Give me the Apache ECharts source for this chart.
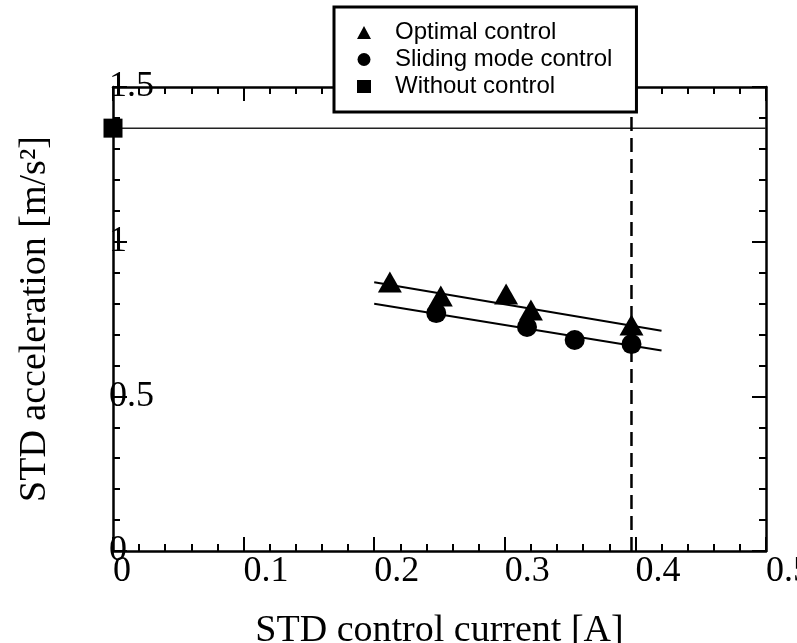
<!DOCTYPE html>
<html>
<head>
<meta charset="utf-8">
<script src="https://cdn.jsdelivr.net/npm/echarts@6/dist/echarts.min.js"></script>
<style>
html,body{margin:0;padding:0;background:#fff;}
#c{width:797px;height:643px;}
</style>
</head>
<body>
<div id="c"></div>
<script>
// ---- data ----
const optimalX = [0.212, 0.251, 0.301, 0.320, 0.397];
const optimalY = [0.870, 0.824, 0.831, 0.779, 0.731];
const slidingX = [0.2475, 0.317, 0.3535, 0.397];
const slidingY = [0.769, 0.724, 0.682, 0.669];
const withoutX = [0];
const withoutY = [1.367];
const fitOptimalX = [0.2, 0.42];
const fitOptimalY = [0.869, 0.712];
const fitSlidingX = [0.2, 0.42];
const fitSlidingY = [0.799, 0.648];
const limitCurrent = 0.397;
const xRange = [0, 0.5];
const yRange = [0, 1.5];
const xStep = 0.1;
const yStep = 0.5;
const seriesNames = ['Optimal control', 'Sliding mode control', 'Without control'];
const xTitle = 'STD control current [A]';
const yTitle = 'STD acceleration [m/s²]';

const zip = (xs, ys) => xs.map((x, i) => [x, ys[i]]);

const serif = 'Liberation Serif';
const sans = 'Liberation Sans';
const black = '#000';

function axisBase(extra) {
  return Object.assign({
    type: 'value',
    axisLine: { show: true, onZero: false, lineStyle: { color: black, width: 2.5 } },
    axisTick: { show: true, inside: true, length: 14, lineStyle: { color: black, width: 2 } },
    minorTick: { show: true, splitNumber: 5, length: 7, lineStyle: { color: black, width: 2 } },
    splitLine: { show: false },
    minorSplitLine: { show: false }
  }, extra);
}

const chart = echarts.init(document.getElementById('c'), null, { renderer: 'canvas' });
chart.setOption({
  animation: false,
  backgroundColor: '#fff',
  grid: { left: 113, right: 31, top: 87, bottom: 92, containLabel: false, outerBoundsMode: 'none' },
  xAxis: [
    axisBase({
      min: xRange[0], max: xRange[1], interval: xStep, position: 'bottom',
      axisLabel: { show: true, align: 'left', verticalAlign: 'middle', margin: 21,
        fontFamily: serif, fontSize: 36, color: black, hideOverlap: false },
      name: xTitle, nameLocation: 'middle', nameGap: 61, nameMoveOverlap: false,
      nameTextStyle: { fontFamily: serif, fontSize: 38, color: black }
    }),
    axisBase({
      min: xRange[0], max: xRange[1], interval: xStep, position: 'top',
      axisLabel: { show: false }
    })
  ],
  yAxis: [
    axisBase({
      min: yRange[0], max: yRange[1], interval: yStep, position: 'left',
      axisLabel: { show: true, align: 'left', verticalAlign: 'middle', margin: 4,
        fontFamily: serif, fontSize: 36, color: black, hideOverlap: false },
      name: yTitle, nameLocation: 'middle', nameGap: 59, nameRotate: 90, nameMoveOverlap: false,
      nameTextStyle: { fontFamily: serif, fontSize: 38, color: black }
    }),
    axisBase({
      min: yRange[0], max: yRange[1], interval: yStep, position: 'right',
      axisLabel: { show: false }
    })
  ],
  legend: {
    show: true,
    orient: 'vertical',
    left: 334, top: 7,
    padding: [12, 24, 12, 23],
    itemGap: 0,
    itemWidth: 14, itemHeight: 13,
    symbolKeepAspect: true,
    backgroundColor: '#fff',
    borderColor: black, borderWidth: 3,
    selectedMode: false,
    textStyle: { fontFamily: sans, fontSize: 24, color: black, lineHeight: 27, padding: [0, 0, 0, 19] },
    data: [
      { name: seriesNames[0], icon: 'triangle' },
      { name: seriesNames[1], icon: 'circle' },
      { name: seriesNames[2], icon: 'rect' }
    ],
    z: 10
  },
  series: [
    {
      name: 'fit-optimal', type: 'line', data: zip(fitOptimalX, fitOptimalY),
      symbol: 'none', lineStyle: { color: black, width: 2 }, z: 2, silent: true
    },
    {
      name: 'fit-sliding', type: 'line', data: zip(fitSlidingX, fitSlidingY),
      symbol: 'none', lineStyle: { color: black, width: 2 }, z: 2, silent: true
    },
    {
      name: 'baseline', type: 'line', data: [[xRange[0], withoutY[0]], [xRange[1], withoutY[0]]],
      symbol: 'none', lineStyle: { color: '#222', width: 1.5 }, z: 2, silent: true
    },
    {
      name: 'limit', type: 'line', data: [[limitCurrent, yRange[0]], [limitCurrent, yRange[1]]],
      symbol: 'none', lineStyle: { color: black, width: 2.5, type: [14, 7] }, z: 2, silent: true
    },
    {
      name: seriesNames[0], type: 'scatter', data: zip(optimalX, optimalY),
      symbol: 'triangle', symbolSize: [24, 21], itemStyle: { color: black, opacity: 1 }, clip: false, z: 5
    },
    {
      name: seriesNames[1], type: 'scatter', data: zip(slidingX, slidingY),
      symbol: 'circle', symbolSize: 20, itemStyle: { color: black, opacity: 1 }, clip: false, z: 5
    },
    {
      name: seriesNames[2], type: 'scatter', data: zip(withoutX, withoutY),
      symbol: 'rect', symbolSize: 19, itemStyle: { color: black, opacity: 1 }, clip: false, z: 5
    }
  ]
});
</script>
</body>
</html>
